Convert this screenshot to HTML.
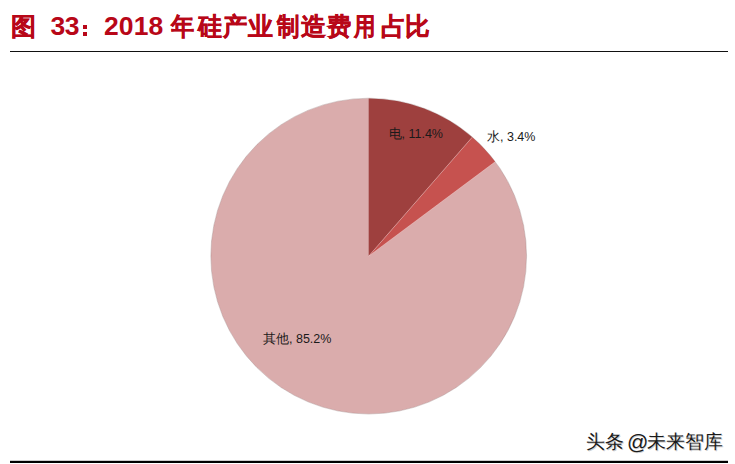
<!DOCTYPE html>
<html>
<head>
<meta charset="utf-8">
<style>
  html, body { margin: 0; padding: 0; background: #fff; }
  body { width: 735px; height: 464px; position: relative; overflow: hidden;
         font-family: "Liberation Sans", sans-serif; }
  .title { position: absolute; left: 12px; top: 11px; font-size: 25px; font-weight: bold;
           color: #b80718; white-space: nowrap; line-height: 30px; letter-spacing: 0; }
  .colon { position:absolute; width:4px; height:4px; background:#b80718; }
  .cjk { -webkit-text-stroke: 0.4px #b80718; }
  .tc { font-size:25px; transform:scaleX(0.95); transform-origin:0 0; }
  .rule-top { position: absolute; left: 10px; top: 51px; width: 718px; height: 1px; background: #111; }
  .rule-bot { position: absolute; left: 10px; top: 461px; width: 718px; height: 2px; background: #000; box-shadow: 0 -1px 0 rgba(0,0,0,0.2); }
  svg { position: absolute; left: 0; top: 0; }
  .lbl { position: absolute; font-size: 13px; color: #1a1a1a; white-space: nowrap; line-height: 14px; }
  .n { font-size: 12.5px; }
  .wm { position: absolute; top: 431.5px; font-size: 19px; color: #1a1a1a; text-shadow: 0.5px 0.5px 0 rgba(160,160,160,0.5); white-space: nowrap;
        line-height: 20px; }
</style>
</head>
<body>
<div class="title cjk" style="left:11px;font-size:25px;">图</div>
<div class="title" style="left:50.5px;top:10.5px;font-size:26.5px;letter-spacing:-0.6px;">33</div>
<div class="colon" style="left:83px;top:25px;"></div>
<div class="colon" style="left:83px;top:32px;"></div>
<div class="title" style="left:104px;top:10.5px;font-size:26.5px;letter-spacing:0.1px;">2018</div>
<div class="title cjk tc" style="left:171.1px;transform:scaleX(0.927);">年</div>
<div class="title cjk tc" style="left:197.5px;transform:scaleX(0.954);">硅</div>
<div class="title cjk tc" style="left:222.8px;transform:scaleX(0.968);">产</div>
<div class="title cjk tc" style="left:248.2px;transform:scaleX(1.000);">业</div>
<div class="title cjk tc" style="left:276.9px;transform:scaleX(0.896);">制</div>
<div class="title cjk tc" style="left:300.7px;transform:scaleX(1.000);">造</div>
<div class="title cjk tc" style="left:327.2px;transform:scaleX(0.972);">费</div>
<div class="title cjk tc" style="left:353.6px;transform:scaleX(0.858);">用</div>
<div class="title cjk tc" style="left:381.2px;transform:scaleX(1.000);">占</div>
<div class="title cjk tc" style="left:405.2px;transform:scaleX(0.987);">比</div>
<div class="rule-top"></div>
<svg width="735" height="464" viewBox="0 0 735 464">
  <circle cx="368.7" cy="256.1" r="157.7" fill="#daacac"/>
  <path d="M368.7,256.1 L368.7,98.40 A157.7,157.7 0 0 1 472.24,137.15 Z" fill="#9e403e"/>
  <path d="M368.7,256.1 L472.24,137.15 A157.7,157.7 0 0 1 495.11,161.81 Z" fill="#c6524f"/>
  <path d="M368.7,256.1 L472.24,137.15 M368.7,256.1 L495.11,161.81" stroke="rgba(255,235,235,0.35)" stroke-width="1" fill="none"/>
  <circle cx="368.7" cy="256.1" r="157.9" fill="none" stroke="rgba(90,45,45,0.25)" stroke-width="0.9"/>
</svg>
<div class="lbl" style="left:388.5px; top:127px;">电<span class="n">, 11.4%</span></div>
<div class="lbl" style="left:487px; top:130px;">水<span class="n">, 3.4%</span></div>
<div class="lbl" style="left:263px; top:332px;">其他<span class="n">, 85.2%</span></div>
<div class="wm" style="left:586px;">头条</div>
<div class="wm" style="left:627px;font-size:21px;">@</div>
<div class="wm" style="left:647px;">未来智库</div>
<div class="rule-bot"></div>
</body>
</html>
